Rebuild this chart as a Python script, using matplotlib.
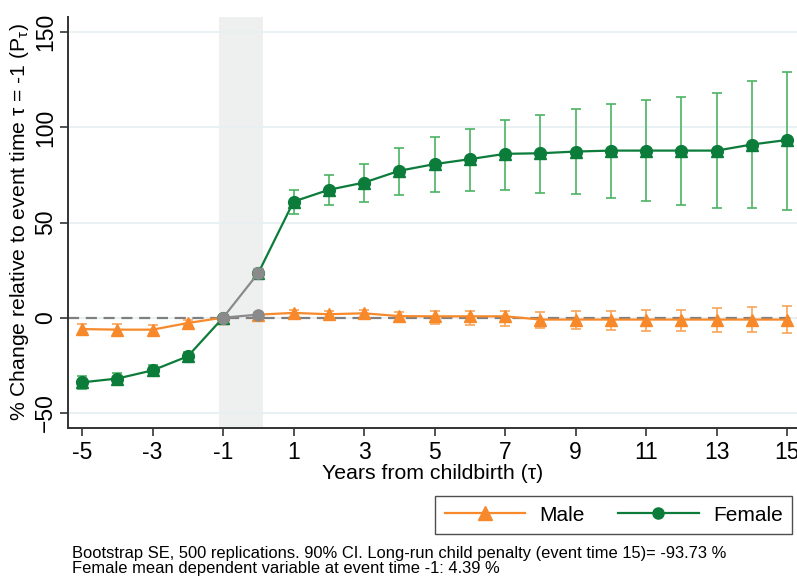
import matplotlib
matplotlib.use("Agg")
import matplotlib.pyplot as plt
from matplotlib.lines import Line2D

plt.rcParams["font.family"] = ["Liberation Sans", "DejaVu Sans"]
plt.rcParams["mathtext.default"] = "regular"

# event time
tau = list(range(-5, 16))

female = [-34, -32, -27.7, -20.3, 0, 23.5, 61, 67.2, 71, 77.2, 80.7, 83.3, 86.1,
          86.4, 87.3, 87.8, 87.8, 87.8, 87.8, 91, 93.4]
female_lo = [-37.5, -35, -30.5, -22.5, 0, 21, 54.4, 59.3, 60.9, 64.6, 66, 66.5, 67,
             65.5, 64.9, 62.8, 61.2, 59.2, 57.6, 57.6, 56.5]
female_hi = [-30.5, -29, -25, -18, 0, 26, 67.2, 75, 80.7, 89.1, 95.2, 99.2, 104,
             106.6, 109.7, 112.3, 114.4, 116, 117.9, 124.6, 129.3]

male = [-6, -6.3, -6.3, -2.8, 0, 1.6, 2.5, 1.8, 2.3, 0.8, 0.7, 0.7, 0.7,
        -1, -1, -1, -1, -1, -1, -1, -1]
male_lo = [-9, -9, -8.5, -4.5, 0, 0, 0.5, 0, 0, -1.5, -3.3, -4, -4.5,
           -5.4, -5.9, -6.5, -6.8, -7.2, -7.5, -7.5, -8]
male_hi = [-3.5, -3.5, -4, -1, 0, 3, 4, 3.5, 4, 3, 3.7, 3.7, 3.7,
           3.1, 3.7, 3.7, 4.2, 4.2, 4.9, 5.6, 6.3]

xticks = list(range(-5, 16, 2))
yticks = [-50, 0, 50, 100, 150]

C_F, C_F_CI = "#0c7c3a", "#4cb464"
C_M, C_M_CI = "#f7892b", "#f7a45a"
GREY = "#8a8a8a"

fig = plt.figure(figsize=(7.97, 5.77), dpi=100)
ax = fig.add_axes([0.0853, 0.2582, 0.9147, 0.7123])

ax.axvspan(-1.12, 0.14, color="#eef0f0", zorder=0, lw=0)
for y in yticks:
    ax.axhline(y, color="#e6eff2", lw=1.2, zorder=0.5)
ax.axhline(0, color="#7f7f7f", lw=1.6, ls=(0, (5, 3)), zorder=1)


def draw(vals, lo, hi, col, ci_col, marker, ms):
    pre = [i for i, t in enumerate(tau) if t <= -1]
    post = [i for i, t in enumerate(tau) if t >= 0]
    ci = [i for i, t in enumerate(tau) if t not in (-1, 0)]
    ax.errorbar([tau[i] for i in ci], [vals[i] for i in ci],
                yerr=[[vals[i] - lo[i] for i in ci], [hi[i] - vals[i] for i in ci]],
                fmt="none", ecolor=ci_col, elinewidth=1.2, capsize=3.5, capthick=1.2, zorder=2)
    for idx in (pre, post):
        ax.plot([tau[i] for i in idx], [vals[i] for i in idx], color=col, lw=1.6, zorder=3)
    for m in marker:
        ax.plot(tau, vals, ls="none", marker=m, ms=ms, color=col, zorder=4)
    # grey reference segment
    g = [i for i, t in enumerate(tau) if t in (-1, 0)]
    ax.errorbar([tau[i] for i in g], [vals[i] for i in g],
                yerr=[[vals[i] - lo[i] for i in g], [hi[i] - vals[i] for i in g]],
                fmt="-", color=GREY, ecolor=GREY, elinewidth=1.2, capsize=3.5, lw=1.6,
                marker="o", ms=8, zorder=5)


draw(male, male_lo, male_hi, C_M, C_M_CI, ["^"], 8.5)
draw(female, female_lo, female_hi, C_F, C_F_CI, ["o", "^"], 8.5)

ax.set_xlim(-5.4, 15.28)
ax.set_ylim(-58, 158)
ax.set_xticks(xticks)
ax.set_xticklabels([str(t) for t in xticks])
ax.set_yticks(yticks)
ax.tick_params(axis="both", labelsize=16.5, length=6, width=1.2, color="#333333")
ax.tick_params(axis="x", pad=3)
ax.tick_params(axis="y", labelrotation=90, pad=2)
for lab in ax.get_yticklabels():
    lab.set_va("center")
for s in ("top", "right"):
    ax.spines[s].set_visible(False)
for s in ("left", "bottom"):
    ax.spines[s].set_color("#333333")
    ax.spines[s].set_linewidth(1.4)

ax.set_xlabel("Years from childbirth (τ)", fontsize=15.3, labelpad=0)
ax.set_ylabel("% Change relative to event time τ = -1 (P$_{τ}$)", fontsize=15.2, labelpad=2)

handles = [Line2D([], [], color=C_M, lw=1.6, marker="^", ms=10),
           Line2D([], [], color=C_F, lw=1.6, marker="o", ms=8)]
leg = fig.legend(handles, ["Male", "Female"], ncol=2, loc="center right",
                 bbox_to_anchor=(0.994, 0.107), fontsize=15, frameon=True,
                 fancybox=False, edgecolor="#222222", handlelength=3.85,
                 columnspacing=1.6, handletextpad=0.7, borderpad=0.45,
                 borderaxespad=0)
leg.get_frame().set_linewidth(1.0)

fig.text(0.09, 0.027,
         "Bootstrap SE, 500 replications. 90% CI. Long-run child penalty (event time 15)= -93.73 %\n"
         "Female mean dependent variable at event time -1: 4.39 %",
         fontsize=11.9, linespacing=1.0, va="center", ha="left")

fig.savefig("out.png", dpi=100)
